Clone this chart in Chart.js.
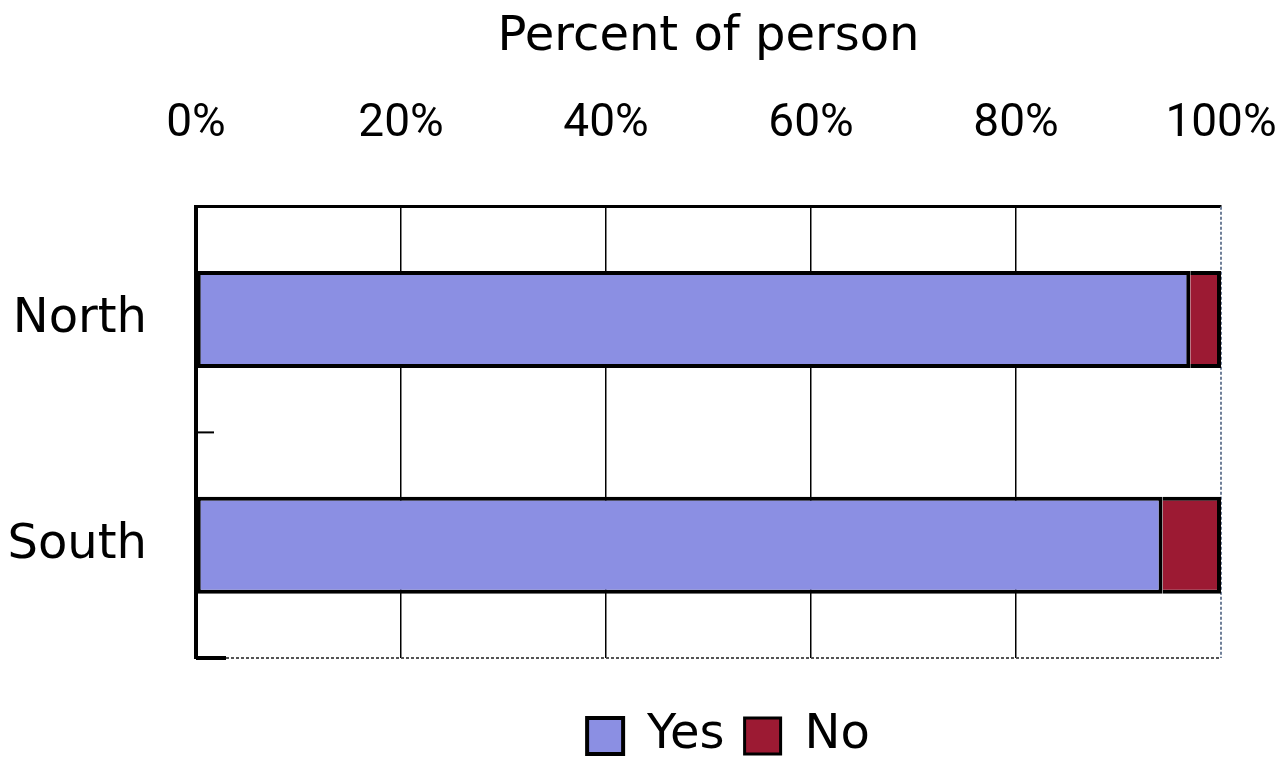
<!DOCTYPE html>
<html lang="en">
<head>
    <meta charset="UTF-8">
    <title>Percent of person</title>
    <script src="https://cdn.jsdelivr.net/npm/chart.js@4.4.1/dist/chart.umd.min.js"></script>
    <style>
        html, body {
            margin: 0;
            padding: 0;
            background: #fff;
        }
        .chart-box {
            position: relative;
            width: 1280px;
            height: 759px;
        }
    </style>
</head>
<body>
    <div class="chart-box">
        <canvas id="answerChart"></canvas>
    </div>

    <script>
        const categories = ['North', 'South'];
        const yesValues = [97.0, 94.3];
        const noValues = [3.0, 5.7];
        const tickValues = [0, 20, 40, 60, 80, 100];
        const seriesNames = ['Yes', 'No'];

        const labelFont = 'DejaVu Sans, Verdana, sans-serif';
        const tickFont = 'Roboto, "Liberation Sans", Arial, sans-serif';

        // right and bottom edges of the plot, plus the small tick between the two rows
        const plotFrame = {
            id: 'plotFrame',
            beforeDatasetsDraw(chart) {
                const { ctx, chartArea: a, scales } = chart;
                ctx.save();
                ctx.lineWidth = 2;
                ctx.setLineDash([3, 2]);
                ctx.strokeStyle = '#6f7f98';
                ctx.beginPath();
                ctx.moveTo(a.right, a.top);
                ctx.lineTo(a.right, a.bottom);
                ctx.stroke();
                ctx.strokeStyle = '#555';
                ctx.beginPath();
                ctx.moveTo(a.left, a.bottom);
                ctx.lineTo(a.right, a.bottom);
                ctx.stroke();
                ctx.setLineDash([]);
                ctx.strokeStyle = '#000';
                ctx.lineWidth = 4;
                ctx.beginPath();
                ctx.moveTo(a.left, a.bottom);
                ctx.lineTo(a.left + 30, a.bottom);
                ctx.stroke();
                const mid = (scales.y.getPixelForValue(0) + scales.y.getPixelForValue(1)) / 2;
                ctx.lineWidth = 2;
                ctx.beginPath();
                ctx.moveTo(a.left, mid);
                ctx.lineTo(a.left + 18, mid);
                ctx.stroke();
                ctx.restore();
            }
        };

        // legend sits a little right of the plot centre and lower down
        const legendShift = {
            id: 'legendShift',
            afterLayout(chart) {
                const lg = chart.legend;
                const a = chart.chartArea;
                lg.left = a.left + 20;
                lg.right = a.right + 20;
                lg.top += 34;
                lg.bottom += 34;
            }
        };

        new Chart(document.getElementById('answerChart'), {
            type: 'bar',
            data: {
                labels: categories,
                datasets: [{
                    label: seriesNames[0],
                    data: yesValues,
                    backgroundColor: '#8b8fe3',
                    borderColor: '#000',
                    borderWidth: { top: 4, bottom: 4, left: 4, right: 4 },
                    borderSkipped: false
                }, {
                    label: seriesNames[1],
                    data: noValues,
                    backgroundColor: '#9c1a33',
                    borderColor: '#000',
                    borderWidth: { top: 4, bottom: 4, left: 0, right: 4 },
                    borderSkipped: false
                }]
            },
            options: {
                indexAxis: 'y',
                responsive: true,
                maintainAspectRatio: false,
                animation: false,
                barPercentage: 0.43,
                categoryPercentage: 1,
                layout: {
                    padding: { top: 4, left: 0, right: 0, bottom: 23 }
                },
                plugins: {
                    tooltip: { enabled: false },
                    legend: {
                        position: 'bottom',
                        labels: {
                            color: '#000',
                            font: { family: labelFont, size: 48 },
                            boxWidth: 36,
                            boxHeight: 36,
                            padding: 20
                        }
                    }
                },
                scales: {
                    x: {
                        position: 'top',
                        stacked: true,
                        min: 0,
                        max: 100,
                        afterBuildTicks(scale) {
                            scale.ticks = tickValues.map(v => ({ value: v }));
                        },
                        afterFit(scale) {
                            scale.paddingLeft = 0;
                            scale.paddingRight = 59;
                        },
                        ticks: {
                            color: '#000',
                            font: { family: tickFont, size: 46 },
                            padding: 55,
                            maxRotation: 0,
                            callback: v => v + '%'
                        },
                        title: {
                            display: true,
                            text: 'Percent of person',
                            color: '#000',
                            font: { family: labelFont, size: 48 },
                            padding: { top: 5, bottom: -25 }
                        },
                        grid: {
                            drawTicks: false,
                            lineWidth: 1.5,
                            color: ctx => (ctx.tick && ctx.tick.value > 0 && ctx.tick.value < 100) ? '#000' : 'rgba(0,0,0,0)'
                        },
                        border: { color: '#000', width: 3 }
                    },
                    y: {
                        stacked: true,
                        afterFit(scale) {
                            scale.width = 196;
                        },
                        ticks: {
                            color: '#000',
                            font: { family: labelFont, size: 48 },
                            padding: 41
                        },
                        grid: { display: false },
                        border: { color: '#000', width: 4 }
                    }
                }
            },
            plugins: [plotFrame, legendShift]
        });
    </script>
</body>
</html>
